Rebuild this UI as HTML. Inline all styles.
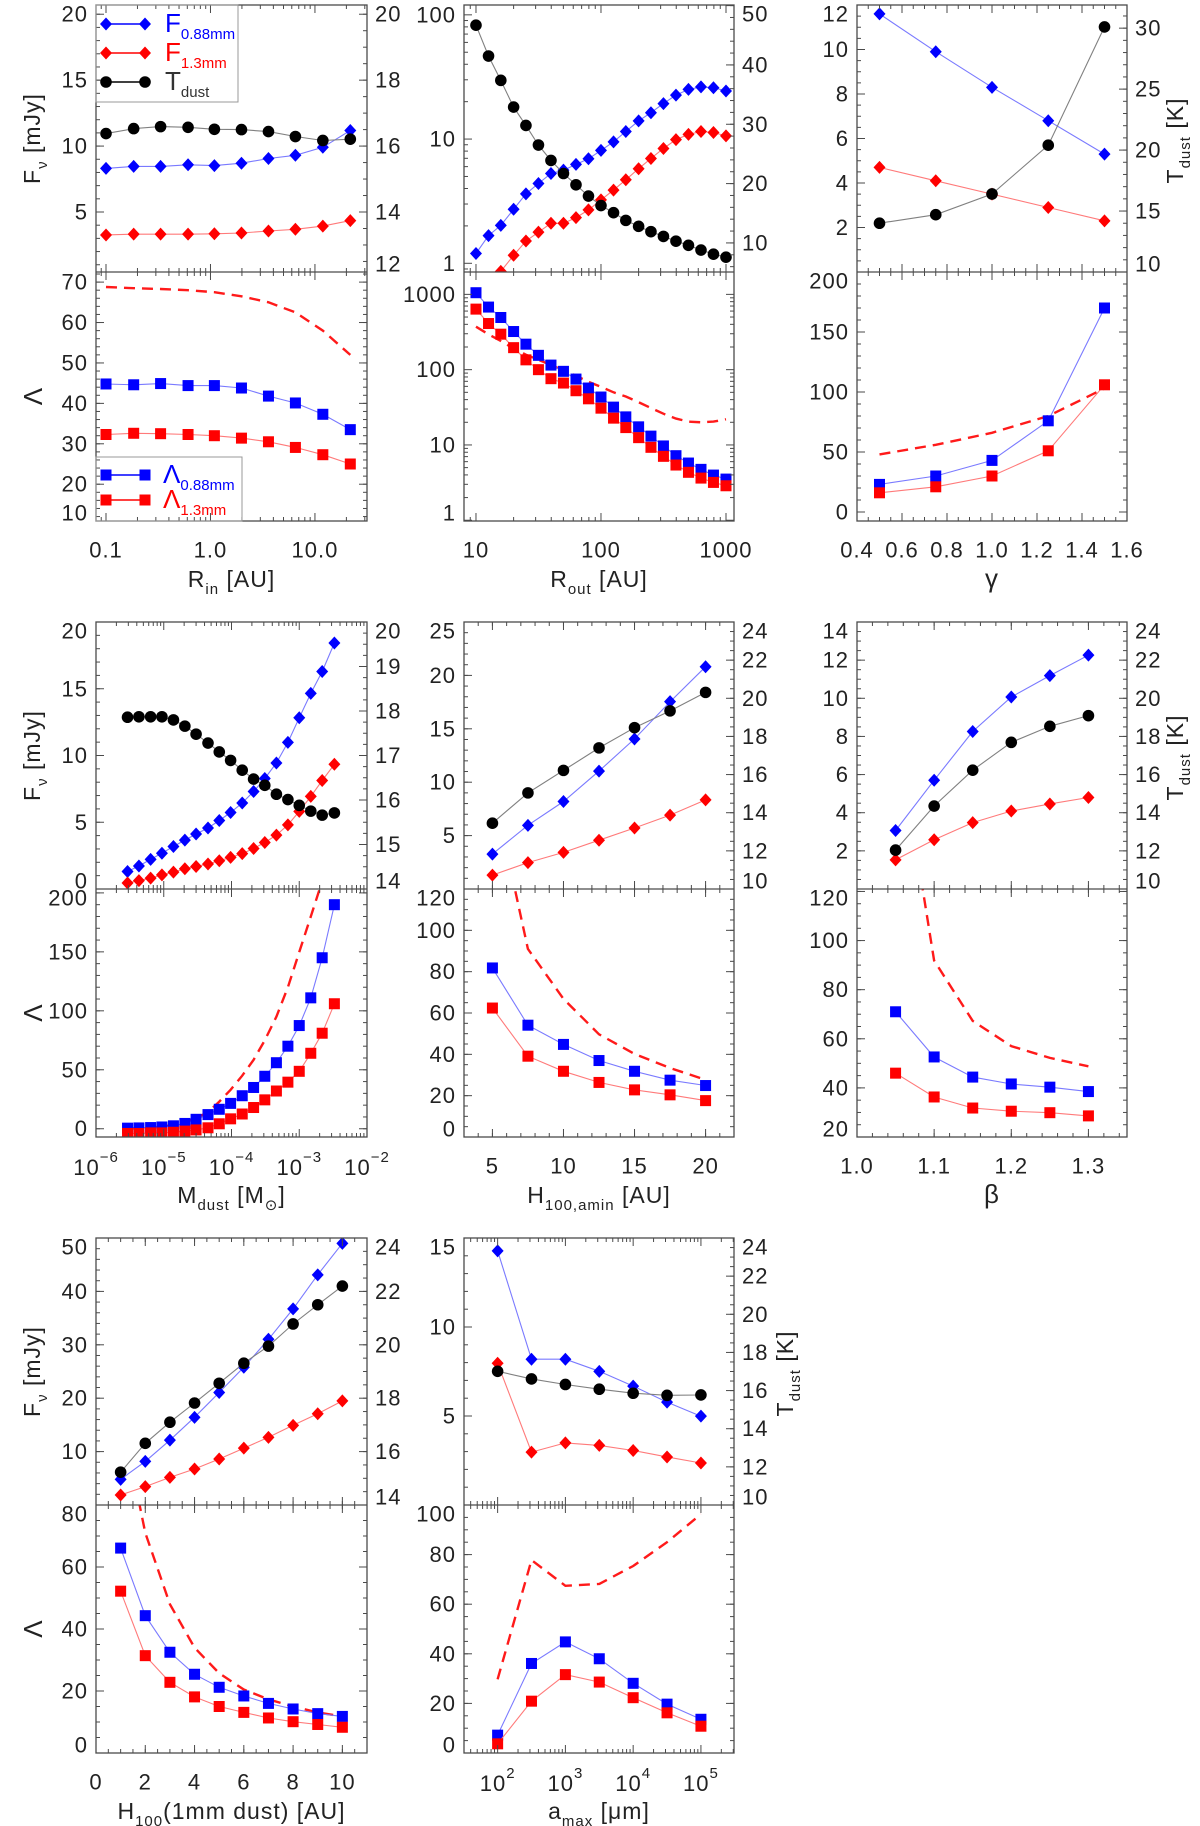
<!DOCTYPE html>
<html><head><meta charset="utf-8">
<style>
html,body{margin:0;padding:0;background:#fff;}
svg{display:block;}
text{font-family:"Liberation Sans","DejaVu Sans",sans-serif;fill:#222;}
</style></head>
<body>
<svg id="fig" xmlns="http://www.w3.org/2000/svg" width="1200" height="1826" viewBox="0 0 1200 1826"></svg>
<script>
// ---------- DATA ----------
// Panel A: R_in
const A_x = [0.1,0.184,0.333,0.61,1.09,1.98,3.59,6.5,11.9,21.8];
const A_f088 = [8.31,8.46,8.46,8.58,8.52,8.70,9.06,9.30,9.91,11.18];
const A_f13 = [3.26,3.32,3.32,3.32,3.35,3.41,3.56,3.69,3.93,4.35];
const A_T = [16.38,16.53,16.59,16.57,16.51,16.50,16.44,16.29,16.17,16.21];
const A_L088 = [44.8,44.6,44.9,44.4,44.4,43.8,41.8,40.1,37.3,33.5];
const A_L13 = [32.3,32.6,32.5,32.3,32.0,31.4,30.5,29.1,27.3,25.0];
const A_dash = [68.8,68.5,68.3,68,67.5,66.5,65,62.5,58,52];
const A_xticks = [0.1,1,10];
const A_xtext = ['0.1','1.0','10.0'];
// Panel B: R_out
const B_x = [10,12.6,15.8,20,25.1,31.6,39.8,50.1,63.1,79.4,100,126,158,200,251,316,398,501,631,794,1000];
const B_f088 = [1.2,1.67,2.02,2.72,3.62,4.39,5.28,5.62,6.25,6.94,8.1,9.5,11.5,14.0,16.3,19.3,22.6,25.1,26.3,25.9,24.4];
const B_f13 = [0.55,0.7,0.86,1.16,1.51,1.78,2.1,2.1,2.33,2.69,3.24,3.88,4.7,5.77,6.98,8.4,9.9,10.9,11.5,11.3,10.6];
const B_T = [46.7,41.5,37.4,32.9,29.8,26.5,23.9,21.7,19.8,17.9,16.3,15.1,13.8,12.8,11.9,11.1,10.3,9.6,8.8,8.1,7.6];
const B_L088 = [1052,678,493,321,218,155,115,95,75,57,43.3,31.8,23.6,17.4,13.1,9.7,7.2,5.75,4.74,3.98,3.52];
const B_L13 = [637,410,296,196,135,100,75.9,66.4,52.5,41.0,30.8,22.7,17.0,12.5,9.3,7.06,5.41,4.33,3.63,3.18,2.87];
const B_dash = [372,295,240,191,158,135,115,98,83,69,59,50,44,37,31,26,22.4,20.4,20,20.4,21.9];
const B_xticks = [10,100,1000];
const B_xtext = ['10','100','1000'];
// Panel C: gamma
const C_x = [0.5,0.75,1.0,1.25,1.5];
const C_f088 = [11.6,9.9,8.3,6.8,5.3];
const C_f13 = [4.7,4.1,3.5,2.9,2.3];
const C_T = [14.0,14.7,16.4,20.4,30.1];
const C_L088 = [23,30,43,76,170];
const C_L13 = [16,21,30,51,106];
const C_dash = [48,56,66,80,103];
const C_xticks = [0.4,0.6,0.8,1.0,1.2,1.4,1.6];
const C_xtext = ['0.4','0.6','0.8','1.0','1.2','1.4','1.6'];
// Panel D: M_dust
const D_x = [2.92e-6,4.3e-6,6.4e-6,9.4e-6,1.39e-5,2.05e-5,3.0e-5,4.5e-5,6.6e-5,9.7e-5,1.44e-4,2.12e-4,3.1e-4,4.6e-4,6.8e-4,1.0e-3,1.48e-3,2.18e-3,3.3e-3];
const D_f088 = [1.31,1.72,2.22,2.68,3.18,3.66,4.12,4.57,5.13,5.73,6.44,7.3,8.28,9.44,10.98,12.83,14.65,16.29,18.43];
const D_f13 = [0.45,0.63,0.81,1.06,1.26,1.52,1.69,1.87,2.12,2.37,2.65,3.03,3.48,4.04,4.8,5.81,6.94,8.13,9.34];
const D_T = [17.86,17.87,17.87,17.87,17.80,17.66,17.48,17.28,17.08,16.89,16.67,16.47,16.33,16.13,16.01,15.88,15.75,15.66,15.71];
const D_L088 = [0.5,0.7,1,1.5,2.5,4.5,8,12,16.5,21.5,28,35,44.5,56,70,87.5,111,145,190];
const D_L13 = [-4,-4,-3.5,-3.5,-3,-2,-1,0.8,4.2,8.4,12.5,18,24.5,32,39.5,48.7,64,81,106];
const D_dash = [0.2,0.5,1,1.8,3.3,5.6,9,14,23,33,45,58.5,75,95,120,150,180,210,245];
const D_xticks = [1e-6,1e-5,1e-4,1e-3,1e-2];
const D_xexp = ['−6','−5','−4','−3','−2'];
// Panel E: H100,amin
const E_x = [5,7.5,10,12.5,15,17.5,20];
const E_f088 = [3.27,5.96,8.19,11.04,14.05,17.54,20.81];
const E_f13 = [1.30,2.47,3.43,4.57,5.71,6.92,8.34];
const E_T = [13.45,15.04,16.22,17.40,18.46,19.34,20.31];
const E_L088 = [81.8,54.1,44.8,37.0,31.8,27.5,24.9];
const E_L13 = [62.4,39.1,31.8,26.4,22.8,20.4,17.6];
const E_dash = [170,91,66.8,49.7,40.2,33.4,27.7];
const E_xticks = [5,10,15,20];
const E_xtext = ['5','10','15','20'];
// Panel F: beta
const F_x = [1.05,1.10,1.15,1.20,1.25,1.30];
const F_f088 = [3.07,5.70,8.26,10.07,11.19,12.26];
const F_f13 = [1.53,2.58,3.48,4.09,4.46,4.80];
const F_T = [12.04,14.35,16.23,17.69,18.53,19.09];
const F_L088 = [71.0,52.6,44.4,41.6,40.3,38.5];
const F_L13 = [46.0,36.3,31.8,30.5,29.9,28.6];
const F_dash = [190,91.9,67.3,57,52.2,48.8];
const F_xticks = [1.0,1.1,1.2,1.3];
const F_xtext = ['1.0','1.1','1.2','1.3'];
// Panel G: H100 (1mm dust)
const G_x = [1,2,3,4,5,6,7,8,9,10];
const G_f088 = [4.80,8.17,12.14,16.42,21.07,25.79,31.03,36.73,43.1,49.0];
const G_f13 = [1.87,3.45,5.17,6.75,8.62,10.64,12.67,14.92,17.09,19.49];
const G_T = [15.23,16.31,17.10,17.82,18.56,19.31,19.95,20.78,21.50,22.20];
const G_L088 = [66.1,44.3,32.5,25.4,21.2,18.4,16.0,14.2,12.7,11.8];
const G_L13 = [52.2,31.4,22.8,18.1,15.0,13.1,11.3,10.1,9.2,8.3];
const G_dash = [110,71,48,34,25.7,20.5,17.3,15,13.1,11.8];
const G_xticks = [0,2,4,6,8,10];
const G_xtext = ['0','2','4','6','8','10'];
// Panel H: a_max
const H_x = [100,316,1000,3162,10000,31623,100000];
const H_f088 = [14.28,8.19,8.19,7.51,6.68,5.78,4.99];
const H_f13 = [7.96,2.97,3.49,3.35,3.06,2.70,2.36];
const H_T = [17.01,16.61,16.32,16.07,15.86,15.75,15.77];
const H_L088 = [7.2,36.1,44.8,38.0,28.1,19.7,13.6];
const H_L13 = [3.7,20.9,31.6,28.6,22.3,16.2,10.8];
const H_dash = [29.7,77.8,67.4,68.2,75.4,85,96.3];
const H_xticks = [1e2,1e3,1e4,1e5];
const H_xexp = ['2','3','4','5'];

// ---------- RENDER ----------
const NS = 'http://www.w3.org/2000/svg';
const svg = document.getElementById('fig');
function mk(tag, attrs, parent){
  const e = document.createElementNS(NS, tag);
  for (const k in attrs) e.setAttribute(k, attrs[k]);
  (parent || svg).appendChild(e);
  return e;
}
function scl(min,max,p0,p1,log){
  if (log){ const a=Math.log10(min), b=Math.log10(max);
    return v => p0 + (Math.log10(v)-a)/(b-a)*(p1-p0); }
  return v => p0 + (v-min)/(max-min)*(p1-p0);
}
function linTicks(min,max,step){
  const out=[]; let v=Math.ceil(min/step-1e-9)*step;
  for(; v<=max+1e-9; v+=step) out.push(+v.toFixed(6));
  return out;
}
function logTicks(min,max){
  const maj=[],mnr=[];
  for(let d=Math.floor(Math.log10(min)); d<=Math.ceil(Math.log10(max)); d++){
    for(let k=1;k<10;k++){ const v=k*Math.pow(10,d);
      if(v>=min*0.9999 && v<=max*1.0001){ (k===1?maj:mnr).push(v);} }
  }
  return {maj,mnr};
}
const COLS = [[96,367],[464,734],[857,1127]];
const ROWS = [[5,272,521],[622,889,1137],[1238,1505,1753]];
const AXC = '#4a4a4a';
const TF = 22;
let clipId = 0;

function subText(parent, x, y, parts, attrs){
  const t = mk('text', Object.assign({x:x, y:y}, attrs||{}), parent);
  let cur = 0;
  parts.forEach(p => {
    const ts = mk('tspan', {}, t);
    let dy = 0;
    if (p.sub){ dy = 7 - cur; cur = 7; ts.setAttribute('font-size', p.size || 15); }
    else if (p.sup){ dy = -10 - cur; cur = -10; ts.setAttribute('font-size', p.size || 15); }
    else { dy = -cur; cur = 0; if (p.size) ts.setAttribute('font-size', p.size); }
    if (dy) ts.setAttribute('dy', dy);
    if (p.fill) ts.setAttribute('fill', p.fill);
    ts.textContent = p.t;
  });
  return t;
}

function marker(g, type, x, y, color){
  let m;
  if (type==='diamond') m = mk('polygon', {points:`${x},${y-6.5} ${x+6},${y} ${x},${y+6.5} ${x-6},${y}`, fill:color}, g);
  else if (type==='square') m = mk('rect', {x:x-5.5, y:y-5.5, width:11, height:11, fill:color}, g);
  else m = mk('circle', {cx:x, cy:y, r:5.8, fill:color}, g);
  return m;
}

function series(g, X, Y, sx, sy, color, lineColor, type, name){
  const sg = mk('g', {}, g);
  
  
  const pts = X.map((x,i)=>`${sx(x).toFixed(1)},${sy(Y[i]).toFixed(1)}`).join(' ');
  mk('polyline', {points:pts, fill:'none', stroke:lineColor, 'stroke-width':1.1}, sg);
  X.forEach((x,i)=>{
    const m = marker(sg, type, sx(x), sy(Y[i]), color);
    
    
  });
}
function dashed(g, X, Y, sx, sy, name){
  const pts = X.map((x,i)=>`${sx(x).toFixed(1)},${sy(Y[i]).toFixed(1)}`).join(' ');
  const l = mk('polyline', {points:pts, fill:'none', stroke:'#ff1a1a', 'stroke-width':2.4, 'stroke-dasharray':'11 7'}, g);
  
  
}

function yAxisTicks(g, ax, x0, x1, yt, yb, side, showLabels){
  const sy = scl(ax.min, ax.max, yb, yt, ax.log);
  let maj, mnr;
  if (ax.log){ const t=logTicks(ax.min, ax.max); maj=t.maj; mnr=t.mnr; }
  else { maj=linTicks(ax.min,ax.max,ax.step); mnr=linTicks(ax.min,ax.max,ax.minor); }
  const xe = side==='left'? x0 : x1, dir = side==='left'? 1 : -1;
  mnr.forEach(v=>{ const y=sy(v); mk('line',{x1:xe,x2:xe+dir*4,y1:y,y2:y,stroke:AXC,'stroke-width':1},g); });
  maj.forEach(v=>{ const y=sy(v); mk('line',{x1:xe,x2:xe+dir*8,y1:y,y2:y,stroke:AXC,'stroke-width':1},g); });
  if (showLabels){
    ax.labels.forEach((v,i)=>{
      let y = sy(v);
      if (y < yt+7) y = yt+9; if (y > yb-7) y = yb-8;
      const t = mk('text', {x: side==='left'? x0-8 : x1+8, y:y, 'font-size':TF, 'letter-spacing':1, 'text-anchor': side==='left'?'end':'start', 'dominant-baseline':'central'}, g);
      t.textContent = ax.text ? ax.text[i] : String(v);
      
      
    });
  }
}
function xAxisTicks(g, ax, x0, x1, y, dir){
  const sx = scl(ax.min, ax.max, x0, x1, ax.log);
  let maj, mnr;
  if (ax.log){ const t=logTicks(ax.min, ax.max); maj=t.maj; mnr=t.mnr; }
  else { maj=linTicks(ax.min,ax.max,ax.step); mnr=linTicks(ax.min,ax.max,ax.minor); }
  mnr.forEach(v=>{ const x=sx(v); mk('line',{x1:x,x2:x,y1:y,y2:y+dir*4,stroke:AXC,'stroke-width':1},g); });
  maj.forEach(v=>{ const x=sx(v); mk('line',{x1:x,x2:x,y1:y,y2:y+dir*8,stroke:AXC,'stroke-width':1},g); });
}

function drawPanel(p){
  const [x0,x1] = COLS[p.col]; const [yt,ym,yb] = ROWS[p.row];
  const g = mk('g', {});
  
  
  const sx = scl(p.x.min, p.x.max, x0, x1, p.x.log);
  const defs = mk('defs', {}, g);
  const c1 = 'clip'+(clipId++), c2 = 'clip'+(clipId++);
  const cp1 = mk('clipPath', {id:c1}, defs); mk('rect',{x:x0,y:yt,width:x1-x0,height:ym-yt},cp1);
  const cp2 = mk('clipPath', {id:c2}, defs); mk('rect',{x:x0,y:ym,width:x1-x0,height:yb-ym},cp2);
  const top = mk('g', {}, g);
  
  
  const syL = scl(p.top.min, p.top.max, ym, yt, p.top.log);
  const syR = scl(p.right.min, p.right.max, ym, yt, p.right.log);
  const dt = mk('g', {'clip-path':`url(#${c1})`}, top);
  series(dt, p.X, p.f088, sx, syL, '#0000ff', '#7a7aff', 'diamond', 'flux-0.88mm-series');
  series(dt, p.X, p.f13, sx, syL, '#ff0000', '#ff7a7a', 'diamond', 'flux-1.3mm-series');
  series(dt, p.X, p.T, sx, syR, '#000000', '#808080', 'circle', 'tdust-series');
  const bot = mk('g', {}, g);
  
  
  const syB = scl(p.bot.min, p.bot.max, yb, ym, p.bot.log);
  const db = mk('g', {'clip-path':`url(#${c2})`}, bot);
  dashed(db, p.X, p.dash, sx, syB, 'lambda-reference-dashed');
  series(db, p.X, p.L088, sx, syB, '#0000ff', '#7a7aff', 'square', 'lambda-0.88mm-series');
  series(db, p.X, p.L13, sx, syB, '#ff0000', '#ff7a7a', 'square', 'lambda-1.3mm-series');
  const ax = mk('g', {}, g);
  
  
  mk('rect', {x:x0, y:yt, width:x1-x0, height:yb-yt, fill:'none', stroke:AXC, 'stroke-width':1.3}, ax);
  mk('line', {x1:x0, x2:x1, y1:ym, y2:ym, stroke:AXC, 'stroke-width':1.3}, ax);
  xAxisTicks(ax, p.x, x0, x1, yt, 1);
  xAxisTicks(ax, p.x, x0, x1, ym, -1);
  xAxisTicks(ax, p.x, x0, x1, ym, 1);
  xAxisTicks(ax, p.x, x0, x1, yb, -1);
  yAxisTicks(ax, p.top, x0, x1, yt, ym, 'left', true);
  yAxisTicks(ax, p.right, x0, x1, yt, ym, 'right', true);
  yAxisTicks(ax, p.bot, x0, x1, ym, yb, 'left', true);
  yAxisTicks(ax, p.bot, x0, x1, ym, yb, 'right', false);
  p.xticks.forEach((v,i)=>{
    const x = sx(v);
    let t;
    if (p.xexp){
      t = subText(ax, x, yb+30, [{t:'10'},{t:p.xexp[i], sup:true, size:15}], {'font-size':TF,'letter-spacing':1,'text-anchor':'middle','dominant-baseline':'central'});
    } else {
      t = mk('text', {x:x, y:yb+29, 'font-size':TF, 'letter-spacing':1, 'text-anchor':'middle', 'dominant-baseline':'central'}, ax);
      t.textContent = p.xtext[i];
    }
    
    
  });
  const tt = subText(ax, (x0+x1)/2, yb+66, p.title, {'font-size':23, 'letter-spacing':1, 'text-anchor':'middle'});
  
  
  return g;
}

const common = (X,f088,f13,T,L088,L13,dash)=>({X,f088,f13,T,L088,L13,dash});

drawPanel(Object.assign({name:'panel-rin', col:0, row:0,
  x:{min:0.0802,max:31.5,log:true},
  top:{min:0.45,max:20.7,step:5,minor:1,labels:[5,10,15,20]},
  right:{min:12.18,max:20.28,step:2,minor:0.5,labels:[12,14,16,18,20]},
  bot:{min:10.9,max:72.5,step:10,minor:2,labels:[10,20,30,40,50,60,70]},
  xticks:A_xticks, xtext:A_xtext,
  title:[{t:'R'},{t:'in',sub:true},{t:'  [AU]'}]}, common(A_x,A_f088,A_f13,A_T,A_L088,A_L13,A_dash)));

drawPanel(Object.assign({name:'panel-rout', col:1, row:0,
  x:{min:8.02,max:1159,log:true},
  top:{min:0.851,max:120,log:true,labels:[1,10,100]},
  right:{min:5.1,max:50.1,step:10,minor:2,labels:[10,20,30,40,50]},
  bot:{min:0.977,max:1982,log:true,labels:[1,10,100,1000]},
  xticks:B_xticks, xtext:B_xtext,
  title:[{t:'R'},{t:'out',sub:true},{t:'  [AU]'}]}, common(B_x,B_f088,B_f13,B_T,B_L088,B_L13,B_dash)));

drawPanel(Object.assign({name:'panel-gamma', col:2, row:0,
  x:{min:0.4,max:1.6,step:0.2,minor:0.05},
  top:{min:0,max:12,step:2,minor:0.5,labels:[2,4,6,8,10,12]},
  right:{min:10,max:31.9,step:5,minor:1,labels:[10,15,20,25,30]},
  bot:{min:-7.5,max:200,step:50,minor:10,labels:[0,50,100,150,200]},
  xticks:C_xticks, xtext:C_xtext,
  title:[{t:'γ', size:26}]}, common(C_x,C_f088,C_f13,C_T,C_L088,C_L13,C_dash)));

drawPanel(Object.assign({name:'panel-mdust', col:0, row:1,
  x:{min:1e-6,max:1e-2,log:true},
  top:{min:0,max:20,step:5,minor:1,labels:[0,5,10,15,20]},
  right:{min:14,max:20,step:1,minor:0.25,labels:[14,15,16,17,18,19,20]},
  bot:{min:-7,max:203.3,step:50,minor:10,labels:[0,50,100,150,200]},
  xticks:D_xticks, xexp:D_xexp,
  title:[{t:'M'},{t:'dust',sub:true},{t:'  [M'},{t:'⊙',sub:true},{t:']'}]}, common(D_x,D_f088,D_f13,D_T,D_L088,D_L13,D_dash)));

drawPanel(Object.assign({name:'panel-h100-amin', col:1, row:1,
  x:{min:3,max:22,step:5,minor:1},
  top:{min:0,max:25,step:5,minor:1,labels:[5,10,15,20,25]},
  right:{min:10,max:24,step:2,minor:0.5,labels:[10,12,14,16,18,20,22,24]},
  bot:{min:0,max:120,step:20,minor:5,labels:[0,20,40,60,80,100,120]},
  xticks:E_xticks, xtext:E_xtext,
  title:[{t:'H'},{t:'100,amin',sub:true},{t:'  [AU]'}]}, common(E_x,E_f088,E_f13,E_T,E_L088,E_L13,E_dash)));

drawPanel(Object.assign({name:'panel-beta', col:2, row:1,
  x:{min:1.0,max:1.35,step:0.1,minor:0.02},
  top:{min:0,max:14,step:2,minor:0.5,labels:[2,4,6,8,10,12,14]},
  right:{min:10,max:24,step:2,minor:0.5,labels:[10,12,14,16,18,20,22,24]},
  bot:{min:20,max:121,step:20,minor:5,labels:[20,40,60,80,100,120]},
  xticks:F_xticks, xtext:F_xtext,
  title:[{t:'β', size:26}]}, common(F_x,F_f088,F_f13,F_T,F_L088,F_L13,F_dash)));

drawPanel(Object.assign({name:'panel-h100-1mm', col:0, row:2,
  x:{min:0,max:11,step:2,minor:0.5},
  top:{min:0,max:50,step:10,minor:2,labels:[10,20,30,40,50]},
  right:{min:14,max:24,step:2,minor:0.5,labels:[14,16,18,20,22,24]},
  bot:{min:0,max:80,step:20,minor:5,labels:[0,20,40,60,80]},
  xticks:G_xticks, xtext:G_xtext,
  title:[{t:'H'},{t:'100',sub:true},{t:'(1mm dust) [AU]'}]}, common(G_x,G_f088,G_f13,G_T,G_L088,G_L13,G_dash)));

drawPanel(Object.assign({name:'panel-amax', col:1, row:2,
  x:{min:31.9,max:307600,log:true},
  top:{min:0,max:15,step:5,minor:1,labels:[5,10,15]},
  right:{min:10,max:24,step:2,minor:0.5,labels:[10,12,14,16,18,20,22,24]},
  bot:{min:0,max:100,step:20,minor:5,labels:[0,20,40,60,80,100]},
  xticks:H_xticks, xexp:H_xexp,
  title:[{t:'a'},{t:'max',sub:true},{t:'  [μm]'}]}, common(H_x,H_f088,H_f13,H_T,H_L088,H_L13,H_dash)));

// ---------- y-axis titles ----------
[0,1,2].forEach(r=>{
  const [yt,ym,yb] = ROWS[r];
  const cy = (yt+ym)/2, cb = (ym+yb)/2;
  const f = subText(svg, 0, 0, [{t:'F'},{t:'ν',sub:true},{t:'  [mJy]'}], {'font-size':23,'letter-spacing':1,'text-anchor':'middle', transform:`translate(40,${cy}) rotate(-90)`});
  
  
  const l = mk('text', {'font-size':26,'text-anchor':'middle', transform:`translate(42,${cb}) rotate(-90)`});
  l.textContent = 'Λ';
  
  
});
[[1183,0],[1183,1],[793,2]].forEach(([x,r])=>{
  const [yt,ym] = ROWS[r];
  const t = subText(svg, 0, 0, [{t:'T'},{t:'dust',sub:true},{t:'  [K]'}], {'font-size':23,'letter-spacing':1,'text-anchor':'middle', transform:`translate(${x},${(yt+ym)/2+2}) rotate(-90)`});
  
  
});

// ---------- legends ----------
const lg1 = mk('g', {});


mk('rect', {x:96, y:5, width:142, height:97, fill:'none', stroke:'#999', 'stroke-width':1}, lg1);
[[24,'#0000ff','#0000ff','diamond','F','0.88mm'],[53,'#ff0000','#ff0000','diamond','F','1.3mm'],[82,'#000','#000','circle','T','dust']].forEach(e=>{
  const eg = mk('g', {}, lg1);
  
  
  mk('line', {x1:106, x2:145, y1:e[0], y2:e[0], stroke:e[2], 'stroke-width':1.5}, eg);
  marker(eg, e[3], 106, e[0], e[1]); marker(eg, e[3], 145, e[0], e[1]);
  const c = e[3]==='circle'?'#333':e[1];
  subText(eg, 165, e[0]+8, [{t:e[4], fill:c, size:26},{t:e[5], sub:true, fill:c}], {'font-size':26});
});
const lg2 = mk('g', {});


mk('rect', {x:96, y:457, width:146, height:64, fill:'none', stroke:'#999', 'stroke-width':1}, lg2);
[[475,'#0000ff','0.88mm'],[500,'#ff0000','1.3mm']].forEach(e=>{
  const eg = mk('g', {}, lg2);
  
  
  mk('line', {x1:106, x2:145, y1:e[0], y2:e[0], stroke:e[1], 'stroke-width':1.5}, eg);
  marker(eg, 'square', 106, e[0], e[1]); marker(eg, 'square', 145, e[0], e[1]);
  subText(eg, 163, e[0]+8, [{t:'Λ', fill:e[1], size:26},{t:e[2], sub:true, fill:e[1]}], {'font-size':26});
});
</script>
</body></html>
